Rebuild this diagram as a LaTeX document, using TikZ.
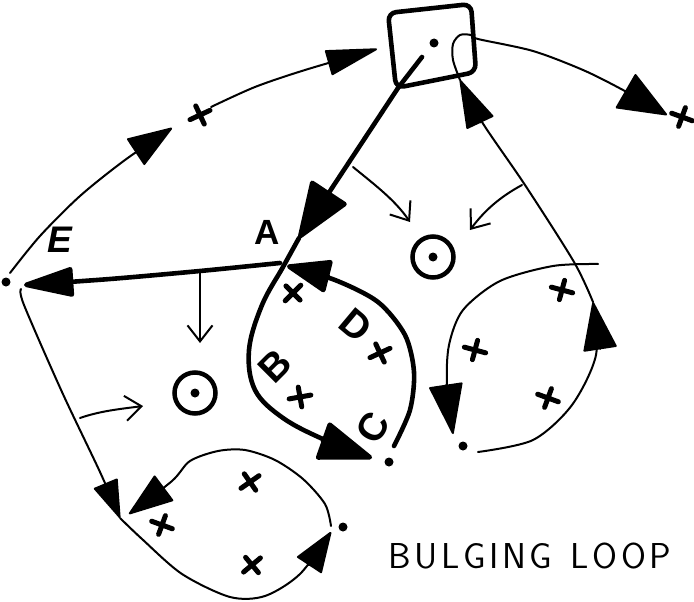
\documentclass[tikz,border=0pt]{standalone}
\usepackage{fontspec}
\usetikzlibrary{arrows.meta}
\newfontfamily\labfont{Liberation Sans}
\newcommand{\lsp}{\kern3.6pt}
\begin{document}
\begin{tikzpicture}[x=1pt,y=-1pt,
  thinl/.style={line width=2pt, line cap=round, line join=round},
  thickl/.style={line width=4.6pt, line cap=round, line join=round},
  tri/.style 2 args={-{Triangle[length=#1pt,width=#2pt,round]}},
  opena/.style={-{Straight Barb[length=16pt,width=25pt]}},
  dotn/.style={circle, fill, inner sep=0pt, minimum size=9pt},
  ring/.style={circle, draw, line width=4.5pt, minimum size=41pt, inner sep=0pt},
  lab/.style={font=\labfont\bfseries\fontsize{35}{35}\selectfont, inner sep=0pt},
  labb/.style={font=\labfont\bfseries\fontsize{39}{39}\selectfont, inner sep=0pt},
  labi/.style={font=\labfont\bfseries\itshape\fontsize{37}{37}\selectfont, inner sep=0pt},
  xm/.pic={\draw[line width=5pt, line cap=round] (-11,0) -- (11,0) (0,-10) -- (0,10);}
]
\useasboundingbox (0,0) rectangle (694,602);

% box
\draw[line width=4.6pt, rounded corners=8pt] (388,13) -- (471,4) -- (476,72) -- (396,88) -- cycle;
\node[dotn] (bdot) at (434,43) {};

% key points
\coordinate (Bin) at (422,57);
\coordinate (Bcorner) at (398,88);
\coordinate (Acut) at (299,238);
\coordinate (Ctip) at (372,458);
\coordinate (Cstart) at (394,446);
\coordinate (Atip) at (287,266);
\coordinate (Astart) at (280,263);
\coordinate (Etip) at (24,285);
\node[dotn] (Cdot) at (389,462) {};
\node[dotn] (Edot) at (6,282) {};
\node[dotn] (Rdot) at (463,446) {};
\node[dotn] (Ldot) at (343,527) {};

% thick paths
\draw[thickl, tri={60}{44}] (Bin) -- (Bcorner) -- (Acut);
\draw[thickl, tri={58}{40}] plot[smooth, tension=0.6] coordinates {(Acut) (283,267) (262,305) (249,350) (255,390) (283,418) (325,440) (Ctip)};
\draw[thickl, tri={48}{34}] plot[smooth] coordinates {(Cstart) (410,410) (414,372) (405,335) (378,302) (335,280) (Atip)};
\draw[thickl, tri={56}{30}] plot[smooth] coordinates {(Astart) (200,271) (110,279) (Etip)};

% rings
\node[ring] (r1) at (195,393) {}; \node[dotn] at (r1) {};
\node[ring] (r2) at (433,257) {}; \node[dotn] at (r2) {};

% thin open arrows
\coordinate (t1a) at (200,272); \coordinate (t1b) at (200,343);
\coordinate (t2a) at (80,418);  \coordinate (t2b) at (143,406);
\coordinate (t3a) at (353,167); \coordinate (t3b) at (410,222);
\coordinate (t4a) at (522,185); \coordinate (t4b) at (470,230);
\draw[thinl, opena] (t1a) -- (t1b);
\draw[thinl, opena] (t2a) .. controls (100,411) and (120,409) .. (t2b);
\draw[thinl, opena] (t3a) .. controls (375,185) and (395,200) .. (t3b);
\draw[thinl, opena] (t4a) .. controls (500,197) and (485,210) .. (t4b);

% top-left arc
\draw[thinl, tri={46}{32}] plot[smooth] coordinates {(10,273) (40,236) (80,196) (125,160) (172,128)};
\pic[rotate=25] at (200,115) {xm};
\draw[thinl, tri={54}{26}] plot[smooth] coordinates {(211,107) (255,87) (305,70) (377,49)};

% right path: loop -> box -> out
\draw[thinl, tri={50}{34}] plot[smooth] coordinates {(478,452) (533,440) (572,405) (596,355) (593,302)};
\draw[thinl, tri={50}{30}] plot[smooth] coordinates {(593,302) (574,262) (525,185) (482,122) (460,80)};
\draw[thinl, tri={50}{40}] plot[smooth] coordinates {(460,80) (453,60) (453,44) (460,35) (471,35) (478,39) (533,51) (583,70) (623,90) (667,115)};
\pic[rotate=-20] at (682,117) {xm};

% right loop
\draw[thinl, tri={52}{34}] plot[smooth] coordinates {(598,264) (553,266) (500,281) (463,310) (449,345) (447,385) (453,434)};
\pic[rotate=-15] at (562,290) {xm};
\pic[rotate=-15] at (475,350) {xm};
\pic[rotate=-20] at (548,398) {xm};

% bottom loop
\draw[thinl, tri={40}{26}] plot[smooth] coordinates {(21,289) (24,305) (62,392) (100,472) (120,518)};
\draw[thinl, tri={42}{30}] plot[smooth] coordinates {(120,518) (142,539) (182,574) (230,597) (265,596) (300,574) (331,532)};
\draw[thinl, tri={46}{32}] plot[smooth] coordinates {(331,526) (325,504) (303,479) (275,460) (245,450) (218,451) (190,461) (172,481) (129,514)};
\pic[rotate=35] at (250,482) {xm};
\pic[rotate=-20] at (162,525) {xm};
\pic[rotate=40] at (252,565) {xm};

% crosses in the middle loop
\pic[rotate=45] at (293,293) {xm};
\pic[rotate=10] at (300,397) {xm};
\pic[rotate=25] at (380,353) {xm};

% labels
\node[lab] (lA) at (267,232) {A};
\node[labi] (lE) at (60,240) {E};
\node[labb, rotate=45] (lB) at (275,366) {B};
\node[labb, rotate=-40] (lD) at (356,325) {D};
\node[labb, rotate=60] (lC) at (373,428) {C};
\node[anchor=west, inner sep=0pt, font=\sffamily\fontsize{36}{36}\selectfont] (bl) at (388,556) {B\lsp U\lsp L\lsp G\lsp I\lsp N\lsp G\lsp\lsp\ L\lsp O\lsp O\lsp P};
\end{tikzpicture}
\end{document}
